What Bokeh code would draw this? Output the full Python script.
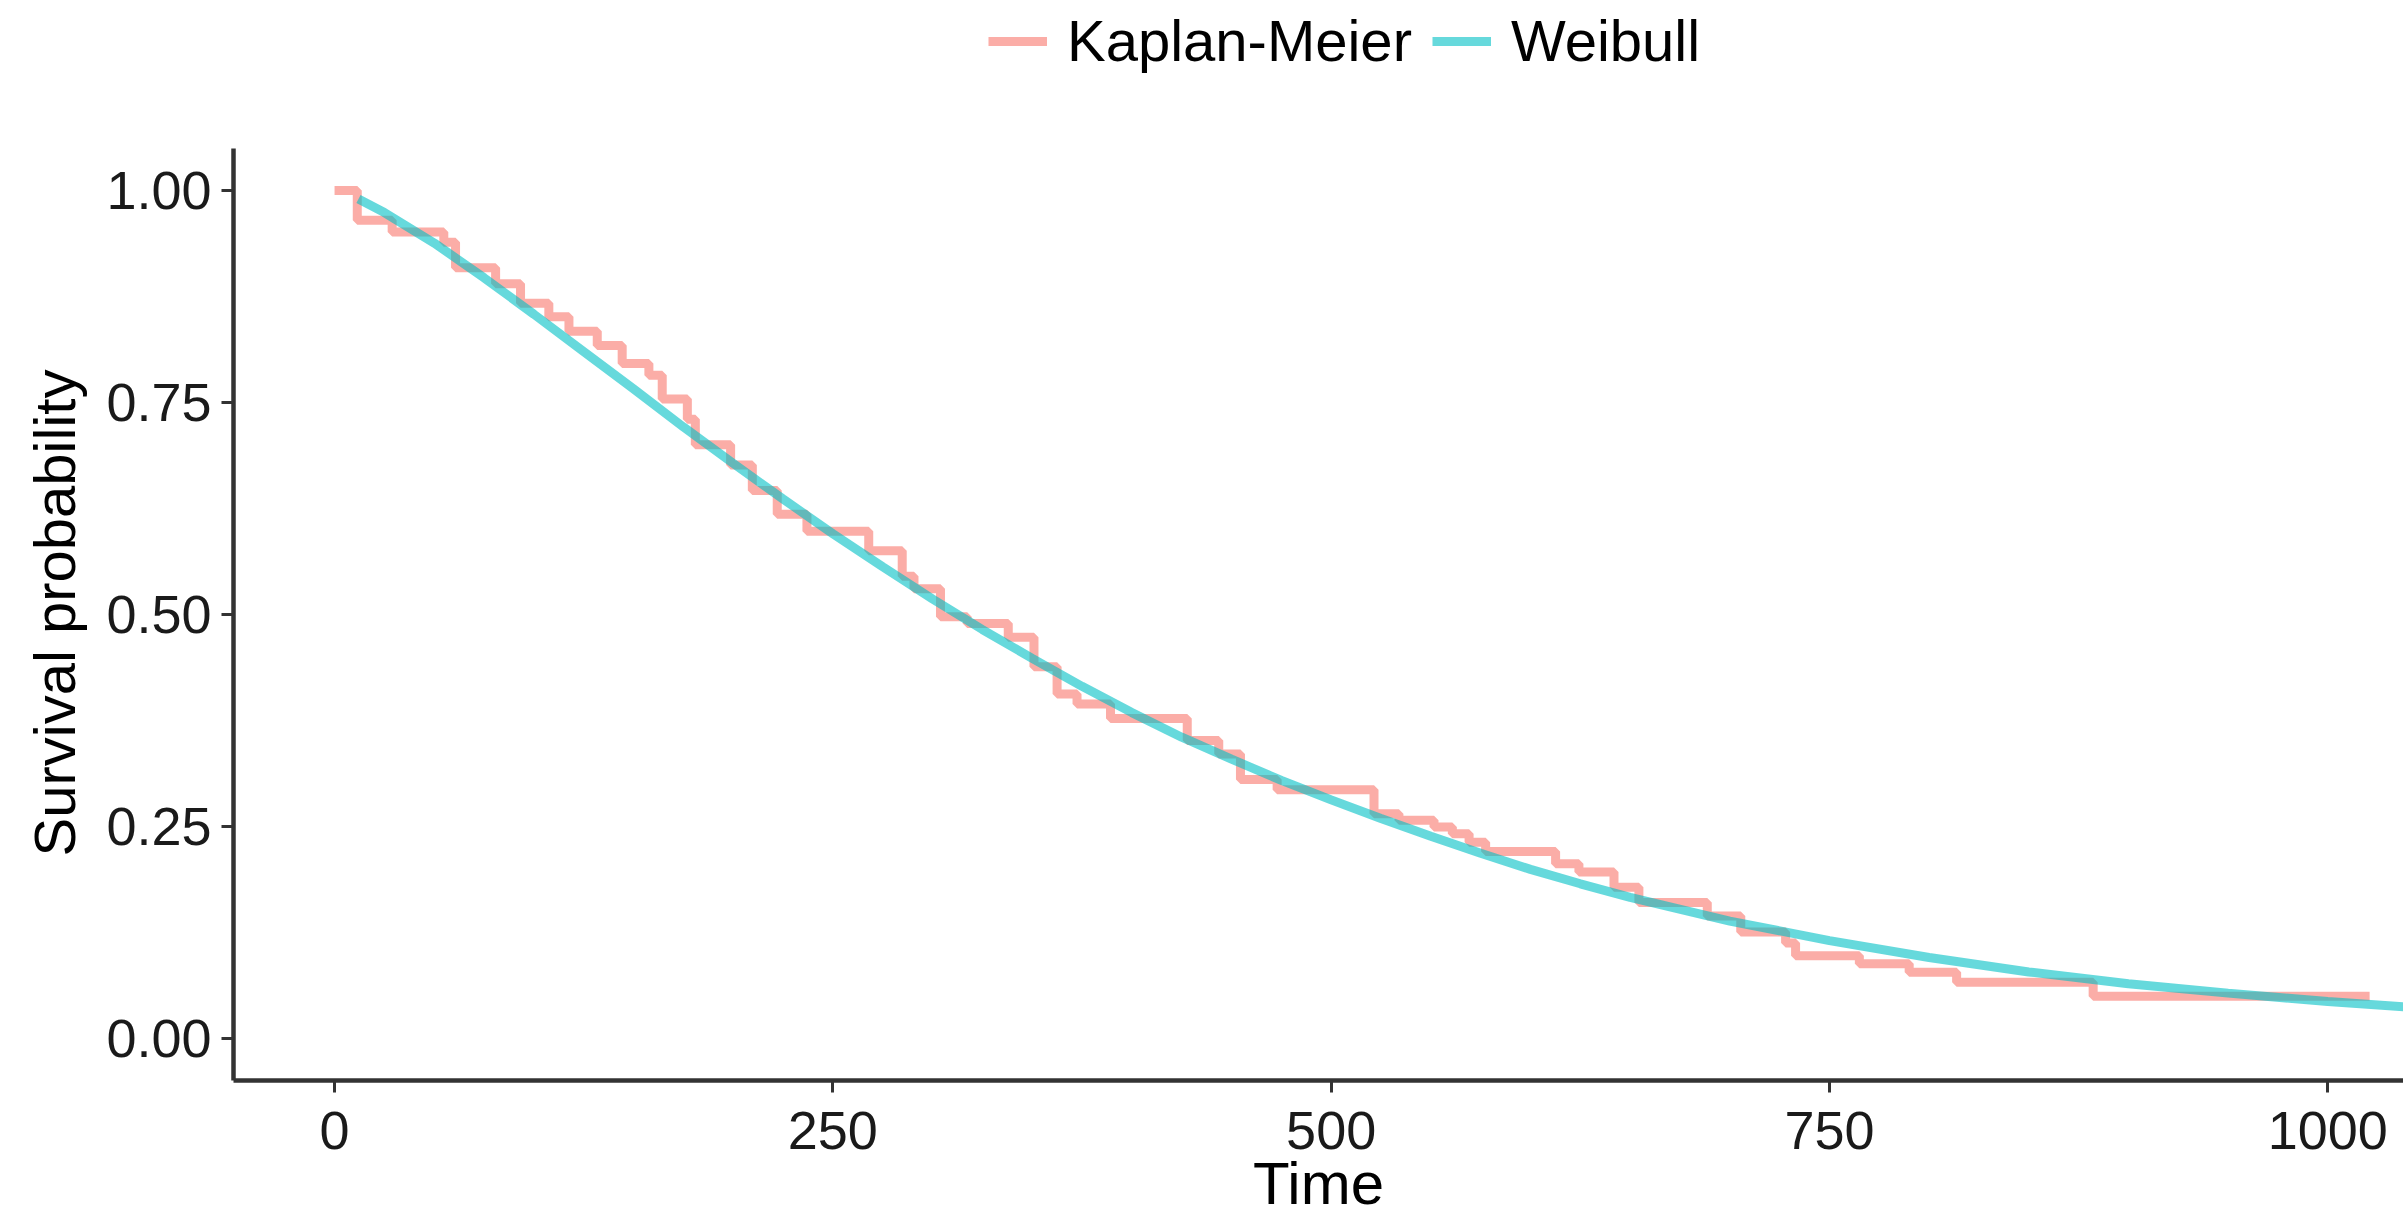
from bokeh.plotting import figure
from bokeh.models import Range1d, FixedTicker, NumeralTickFormatter, Legend, LegendItem
from bokeh.embed import file_html
from bokeh.resources import INLINE

# Kaplan-Meier step curve (time of drop, survival after drop)
km_time = [0, 11.4, 28.9, 54.8, 60.7, 80.8, 93.3, 107.5, 117.6, 131.8, 144.3, 157.7,
           164.4, 177.0, 181.0, 198.7, 209.6, 222.1, 237.0, 268.0, 284.8, 290.7, 304.0,
           317.4, 338.0, 350.9, 362.5, 372.5, 389.3, 427.8, 443.6, 454.5, 472.9, 521.5,
           534.0, 551.6, 560.8, 569.2, 577.5, 612.6, 624.3, 641.9, 654.4, 688.7, 705.5,
           728.0, 733.0, 765.0, 790.0, 813.8, 882.3, 1021.0]
km_surv = [1.0, 0.965, 0.951, 0.939, 0.909, 0.890, 0.867, 0.851, 0.834, 0.817, 0.796, 0.782,
           0.754, 0.730, 0.700, 0.676, 0.646, 0.618, 0.598, 0.575, 0.545, 0.530, 0.497,
           0.489, 0.473, 0.438, 0.406, 0.394, 0.377, 0.351, 0.335, 0.305, 0.293, 0.2645,
           0.257, 0.249, 0.241, 0.231, 0.220, 0.2055, 0.196, 0.178, 0.160, 0.144, 0.125,
           0.112, 0.097, 0.0876, 0.0777, 0.0659, 0.0494, 0.0494]

# Weibull fitted curve
wb_time = [12, 25, 50, 75, 100, 125, 150, 175, 200, 225, 250, 275, 300, 325, 350, 375,
           400, 425, 450, 475, 500, 525, 550, 575, 600, 625, 650, 700, 750, 800, 850,
           900, 950, 1000, 1050, 1075]
wb_surv = [0.990, 0.974, 0.938, 0.897, 0.854, 0.810, 0.766, 0.721, 0.678, 0.636, 0.595,
           0.556, 0.518, 0.482, 0.448, 0.415, 0.384, 0.355, 0.329, 0.304, 0.281, 0.259,
           0.238, 0.218, 0.199, 0.182, 0.166, 0.138, 0.115, 0.095, 0.078, 0.064, 0.053,
           0.043, 0.035, 0.0315]

x_ticks = [0, 250, 500, 750, 1000]
y_ticks = [0, 0.25, 0.5, 0.75, 1.0]
series_names = ["Kaplan-Meier", "Weibull"]

FONT = "Liberation Sans"

# frame reaches the top of the canvas so the legend can sit inside it;
# the y axis itself is limited to -0.05 .. 1.05 through its bounds
p = figure(width=2403, height=1219, output_backend="svg", toolbar_location=None,
           x_range=Range1d(-50.7, 1038), y_range=Range1d(-0.0501, 1.2242),
           min_border_left=233, min_border_right=0, min_border_top=0,
           min_border_bottom=139)
p.outline_line_color = None
p.xgrid.visible = False
p.ygrid.visible = False
p.background_fill_color = "white"
p.border_fill_color = "white"

km = p.step(km_time, km_surv, mode="after", line_color="#F8766D", line_alpha=0.6,
            line_width=9)
wb = p.line(wb_time, wb_surv, line_color="#00BFC4", line_alpha=0.6, line_width=9)

for ax in (p.xaxis[0], p.yaxis[0]):
    ax.axis_line_color = "#333333"
    ax.axis_line_width = 4.5
    ax.major_tick_line_color = "#333333"
    ax.major_tick_line_width = 3
    ax.major_tick_out = 12
    ax.major_tick_in = 0
    ax.minor_tick_out = 0
    ax.minor_tick_in = 0
    ax.major_label_text_font = FONT
    ax.major_label_text_font_size = "54px"
    ax.major_label_text_color = "#1A1A1A"
    ax.axis_label_text_font = FONT
    ax.axis_label_text_font_style = "normal"
    ax.axis_label_text_color = "black"

p.yaxis.bounds = (-0.05, 1.05)
p.xaxis.ticker = FixedTicker(ticks=x_ticks)
p.yaxis.ticker = FixedTicker(ticks=y_ticks)
p.xaxis.formatter = NumeralTickFormatter(format="0")
p.yaxis.formatter = NumeralTickFormatter(format="0.00")
p.xaxis.axis_label = "Time"
# trailing no-break spaces move the rotated title's centre down to the axis middle
p.yaxis.axis_label = "Survival probability" + "\u00a0" * 9
p.xaxis.axis_label_text_font_size = "60px"
p.yaxis.axis_label_text_font_size = "58px"
p.xaxis.major_label_standoff = 19
p.yaxis.major_label_standoff = 10
p.xaxis.axis_label_standoff = -2
p.yaxis.axis_label_standoff = 16

legend = Legend(items=[LegendItem(label=series_names[0], renderers=[km]),
                       LegendItem(label=series_names[1], renderers=[wb])],
                orientation="horizontal", location=(755, 1006),
                glyph_width=59, glyph_height=56, label_height=56,
                label_standoff=20, spacing=20, padding=0, margin=0,
                border_line_color=None, background_fill_alpha=0,
                label_text_font=FONT, label_text_font_size="58px",
                label_text_color="black")
p.add_layout(legend, "center")

open("out.html", "w").write(file_html(p, INLINE))
